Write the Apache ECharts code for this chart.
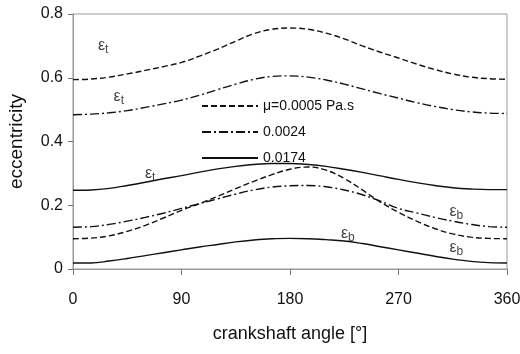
<!DOCTYPE html>
<html>
<head>
<meta charset="utf-8">
<script src="https://cdn.jsdelivr.net/npm/echarts@6/dist/echarts.min.js"></script>
<style>
  html, body { margin: 0; padding: 0; background: #fff; }
  #chart { width: 520px; height: 354px; }
</style>
</head>
<body>
<div id="chart"></div>
<script>
// crank angle, deg
const angles = [0, 15, 30, 45, 60, 75, 90, 105, 120, 135, 150, 165, 180,
  195, 210, 225, 240, 255, 270, 285, 300, 315, 330, 345, 360];

// top (eps_t) curves
const topLow  = [0.594, 0.596, 0.602, 0.612, 0.623, 0.635, 0.648, 0.668, 0.690, 0.715, 0.738, 0.752, 0.756,
  0.752, 0.740, 0.722, 0.700, 0.680, 0.662, 0.643, 0.626, 0.612, 0.602, 0.597, 0.595];
const topMid  = [0.484, 0.486, 0.490, 0.497, 0.507, 0.518, 0.530, 0.545, 0.563, 0.580, 0.595, 0.604, 0.606,
  0.602, 0.593, 0.580, 0.565, 0.550, 0.536, 0.522, 0.510, 0.500, 0.493, 0.489, 0.488];
const topHigh = [0.247, 0.248, 0.253, 0.262, 0.272, 0.283, 0.293, 0.304, 0.314, 0.322, 0.328, 0.331, 0.331,
  0.328, 0.322, 0.313, 0.303, 0.292, 0.281, 0.271, 0.262, 0.255, 0.251, 0.249, 0.249];

// bottom (eps_b) curves
const botLow  = [0.095, 0.097, 0.104, 0.118, 0.137, 0.160, 0.184, 0.205, 0.228, 0.252, 0.275, 0.296, 0.313,
  0.320, 0.310, 0.284, 0.248, 0.210, 0.178, 0.150, 0.127, 0.110, 0.100, 0.096, 0.095];
const botMid  = [0.131, 0.133, 0.140, 0.150, 0.162, 0.175, 0.190, 0.205, 0.220, 0.235, 0.248, 0.257, 0.261,
  0.262, 0.258, 0.248, 0.233, 0.213, 0.190, 0.176, 0.162, 0.150, 0.140, 0.133, 0.131];
const botHigh = [0.019, 0.019, 0.025, 0.033, 0.042, 0.051, 0.060, 0.069, 0.077, 0.085, 0.091, 0.095, 0.096,
  0.095, 0.092, 0.088, 0.080, 0.070, 0.060, 0.050, 0.040, 0.031, 0.024, 0.020, 0.019];

const names = ['\u03bc=0.0005 Pa.s', '0.0024', '0.0174'];

// curve labels: [angle, eccentricity, subscript]
const tags = [[25, 0.70, 't'], [38, 0.54, 't'], [64, 0.30, 't'],
  [318, 0.18, 'b'], [318, 0.068, 'b'], [228, 0.11, 'b']];

const dashes = {
  dash: [6, 3],
  dot: [9, 3, 2, 3],
  solid: 'solid'
};

const pair = (ys) => angles.map((a, i) => [a, ys[i]]);

function line(name, ys, type) {
  return {
    name: name, type: 'line', data: pair(ys), smooth: 0.4,
    symbol: 'none', animation: false, color: '#111',
    lineStyle: { color: '#111', width: 1.4, type: type }
  };
}

const chart = echarts.init(document.getElementById('chart'));
chart.setOption({
  animation: false,
  textStyle: { fontFamily: 'Liberation Sans, Arial, sans-serif' },
  grid: {
    left: 73, right: 13, top: 14, bottom: 85, outerBoundsMode: 'none',
    show: true, borderColor: '#999', borderWidth: 1
  },
  legend: {
    data: names, orient: 'vertical', left: 196, top: 94, itemGap: 12,
    itemWidth: 56, itemHeight: 10,
    itemStyle: { opacity: 0 },
    textStyle: { fontSize: 14, color: '#111', fontFamily: 'Liberation Sans, Arial, sans-serif' }
  },
  xAxis: {
    type: 'value', min: 0, max: 360, interval: 90,
    name: 'crankshaft angle [\u00b0]', nameLocation: 'middle', nameGap: 56,
    nameTextStyle: { fontSize: 18, color: '#111' },
    axisLine: { lineStyle: { color: '#999' } },
    axisTick: { show: true, length: 6, lineStyle: { color: '#777' } },
    axisLabel: { fontSize: 16, color: '#111', margin: 23 },
    splitLine: { show: false }
  },
  yAxis: {
    type: 'value', min: 0, max: 0.8, interval: 0.2,
    name: 'eccentricity', nameLocation: 'middle', nameGap: 47,
    nameTextStyle: { fontSize: 19, color: '#111' },
    axisLine: { show: true, lineStyle: { color: '#999' } },
    axisTick: { show: true, length: 5, lineStyle: { color: '#777' } },
    axisLabel: { fontSize: 16, color: '#111', margin: 10,
      formatter: v => v === 0 ? '0' : v.toFixed(1) },
    splitLine: { show: false }
  },
  series: [
    line(names[0], topLow, dashes.dash),
    line(names[1], topMid, dashes.dot),
    line(names[2], topHigh, dashes.solid),
    line(names[0], botLow, dashes.dash),
    line(names[1], botMid, dashes.dot),
    line(names[2], botHigh, dashes.solid),
    {
      type: 'scatter', symbolSize: 0, silent: true,
      data: tags.map(t => ({ value: [t[0], t[1]], sub: t[2] })),
      label: {
        show: true, position: 'inside',
        formatter: p => '\u03b5{s|' + p.data.sub + '}',
        fontSize: 16, color: '#111',
        rich: { s: { fontSize: 12, verticalAlign: 'bottom', padding: [8, 0, 0, 0], color: '#111' } }
      }
    }
  ]
});
</script>
</body>
</html>
